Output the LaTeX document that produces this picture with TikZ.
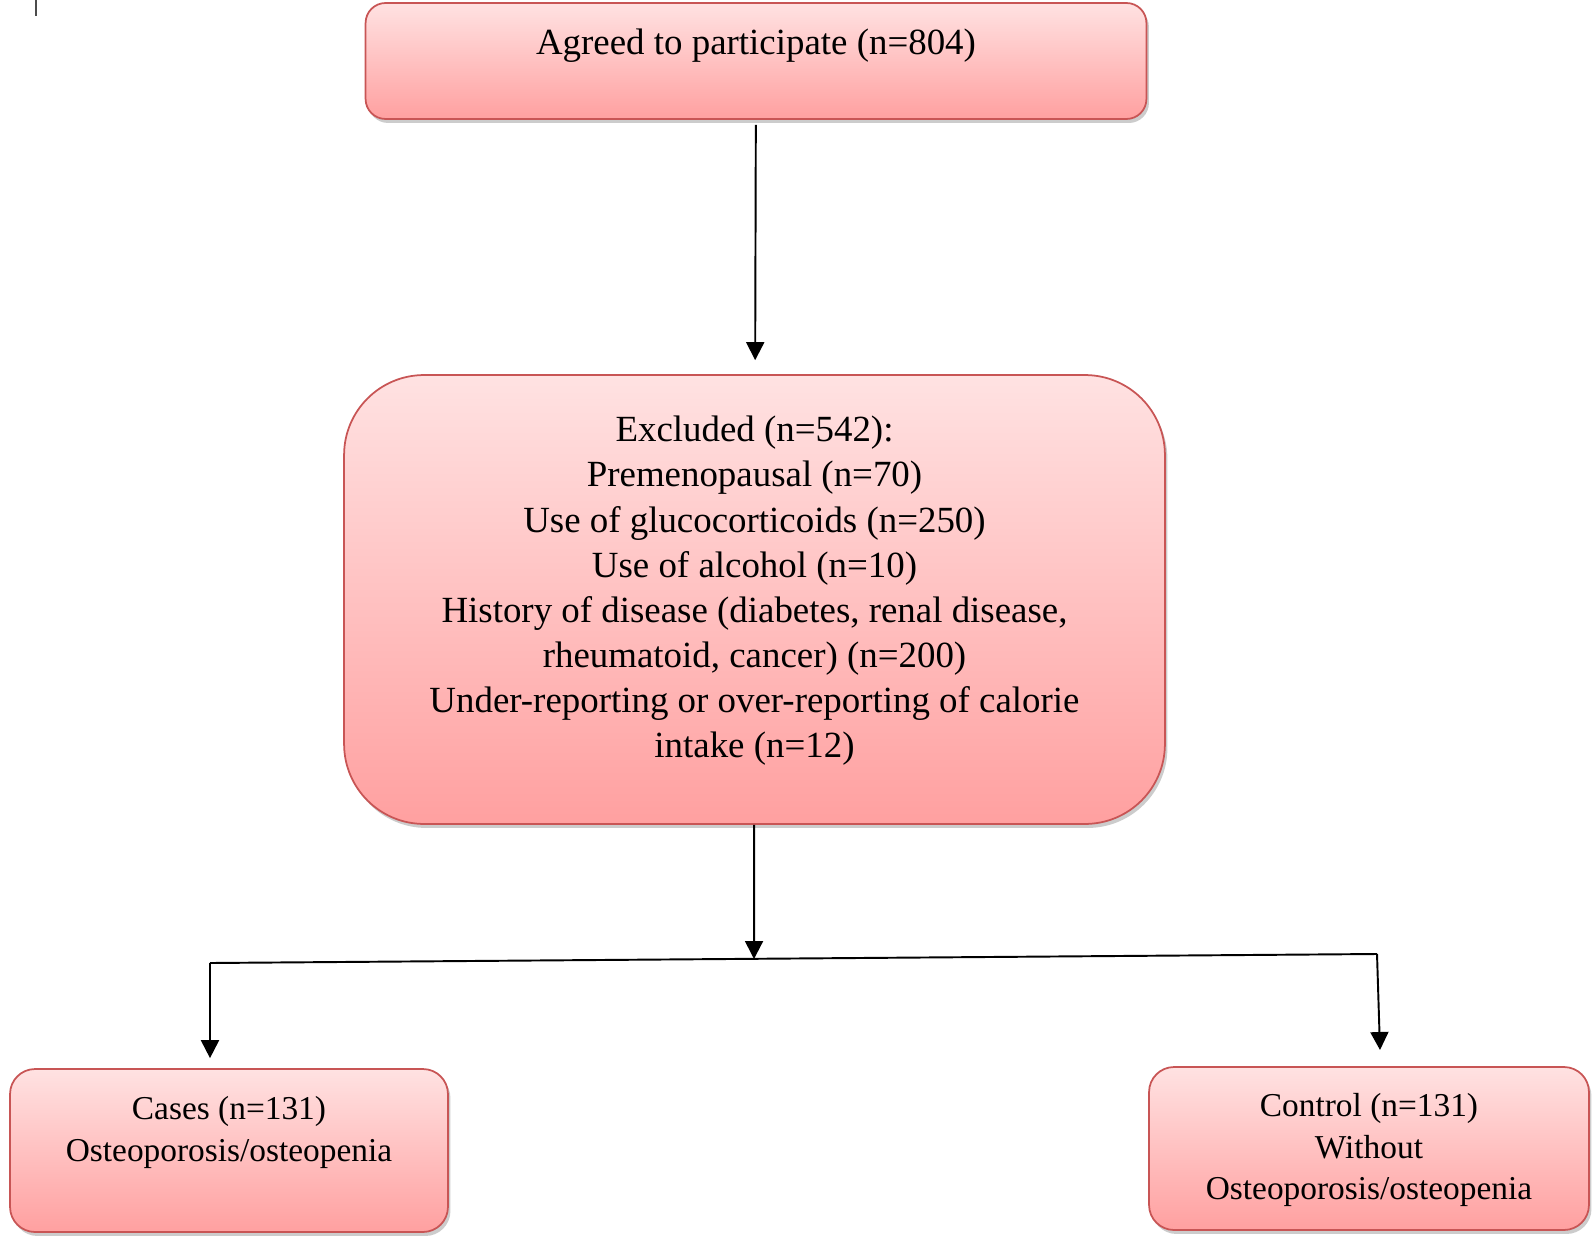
\documentclass[tikz,border=0pt]{standalone}
\usepackage{fontspec}
\setmainfont{Liberation Serif}
\usepackage{xcolor}
\usetikzlibrary{arrows.meta,shadows,positioning}
\definecolor{boxline}{RGB}{200,85,85}
\definecolor{boxtop}{RGB}{255,226,226}
\definecolor{boxbot}{RGB}{255,160,160}

\begin{document}
\begin{tikzpicture}[x=0.02cm,y=-0.02cm,line width=1.1pt,>={Triangle[width=0.36cm,length=0.36cm]},
  box/.style={draw=boxline, line width=1pt, top color=boxtop, bottom color=boxbot,
    drop shadow={shadow xshift=0.05cm, shadow yshift=-0.08cm, fill=black!40, opacity=0.5},
    align=center, inner sep=0pt, font=\fontsize{21}{25.7}\selectfont},
  small/.style={box, rounded corners=0.5cm, minimum height=3.26cm, font=\fontsize{19}{23.6}\selectfont}]
  \useasboundingbox (0,0) rectangle (1594,1243);
  \draw[line width=0.6pt, black!70] (36,0) -- (36,16);
  \node[box, rounded corners=0.4cm, minimum width=15.62cm, minimum height=2.32cm, text depth=0.76cm] (agreed) at (756,61) {Agreed to participate (n=804)};
  \node[box, rounded corners=1.6cm, minimum width=16.42cm, minimum height=8.98cm, text depth=0.5cm] (excl) at (754.5,599.5) {Excluded (n=542):\\
    Premenopausal (n=70)\\
    Use of glucocorticoids (n=250)\\
    Use of alcohol (n=10)\\
    History of disease (diabetes, renal disease,\\
    rheumatoid, cancer) (n=200)\\
    Under-reporting or over-reporting of calorie\\
    intake (n=12)};
  \node[small, minimum width=8.76cm, text depth=0.86cm] (cases) at (229,1150.5) {Cases (n=131)\\ Osteoporosis/osteopenia};
  \node[small, minimum width=8.8cm, text depth=0.08cm] (control) at (1369,1148.5) {Control (n=131)\\ Without\\ Osteoporosis/osteopenia};
  \coordinate (split) at (754,959);
  \coordinate (ltop) at (210,963);
  \coordinate (rtop) at (1377,954);
  \coordinate (rtip) at (1380,1050);
  \draw[->, shorten <=0.1cm, shorten >=0.28cm] (agreed) -- (excl);
  \draw[->] (excl) -- (split);
  \draw (ltop) -- (rtop);
  \draw[->, shorten >=0.2cm] (ltop) -- (ltop |- cases.north);
  \draw[->] (rtop) -- (rtip);
\end{tikzpicture}
\end{document}
